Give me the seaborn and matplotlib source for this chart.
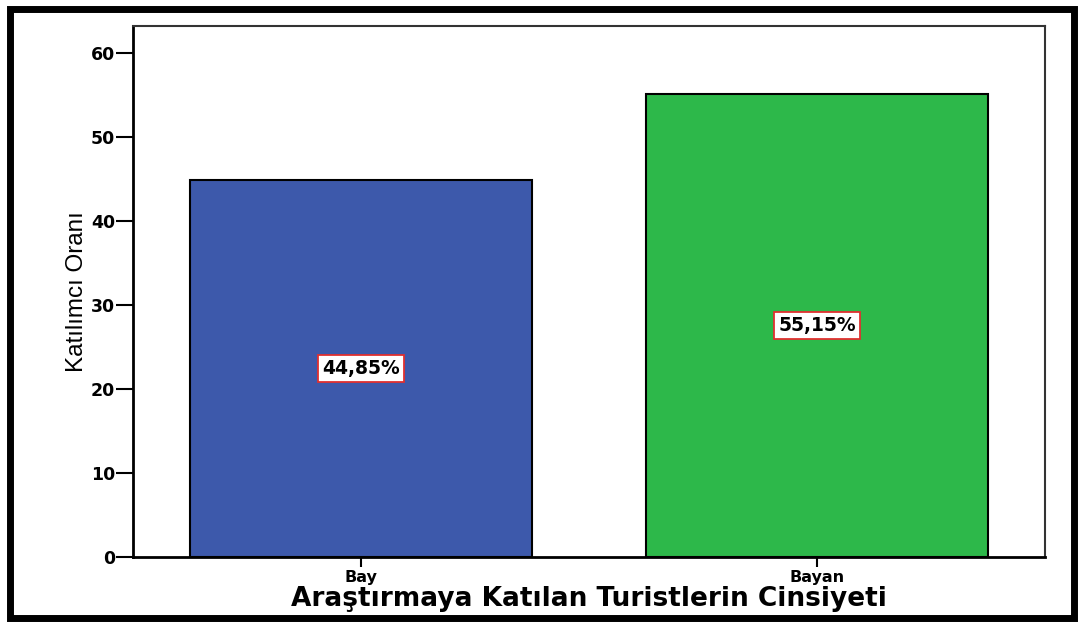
import pandas as pd
import matplotlib.pyplot as plt
import seaborn as sns
from matplotlib.patches import Rectangle

# --- Data ---
categories = ["Bay", "Bayan"]
percentages = [44.85, 55.15]
bar_labels = ["44,85%", "55,15%"]
colors = ["#3d59ab", "#2db84a"]

df = pd.DataFrame({"cinsiyet": categories, "oran": percentages})

sns.set_theme(style="white")
plt.rcParams["font.family"] = ["DejaVu Sans"]
plt.rcParams["text.color"] = "black"
plt.rcParams["xtick.color"] = "black"
plt.rcParams["ytick.color"] = "black"
plt.rcParams["axes.labelcolor"] = "black"

fig = plt.figure(figsize=(10.8, 6.23), dpi=100)
ax = fig.add_axes([0.1231, 0.1059, 0.8445, 0.8524])

sns.barplot(data=df, x="cinsiyet", y="oran", hue="cinsiyet", palette=colors,
            saturation=1, width=0.75, edgecolor="black", linewidth=1.5,
            legend=False, ax=ax)

# labels in the middle of each bar
for i, (val, lab) in enumerate(zip(percentages, bar_labels)):
    ax.text(i, val / 2, lab, ha="center", va="center", fontsize=13.5,
            fontweight="bold", color="black",
            bbox=dict(boxstyle="square,pad=0.2", facecolor="white",
                      edgecolor="#e03030", linewidth=1.3))

ax.set_xlim(-0.5, 1.5)
ax.set_ylim(0, 63.2)
ax.set_yticks([0, 10, 20, 30, 40, 50, 60])
ax.tick_params(axis="y", direction="out", length=12, width=1.5,
               color="black", labelsize=12.5, pad=1, left=True)
ax.tick_params(axis="x", direction="out", length=7, width=1.5,
               color="black", labelsize=11.5, pad=2, bottom=True)
for lbl in ax.get_xticklabels() + ax.get_yticklabels():
    lbl.set_fontweight("bold")

ax.set_xlabel("Araştırmaya Katılan Turistlerin Cinsiyeti", fontsize=19,
              fontweight="bold", labelpad=1)
ax.set_ylabel("Katılımcı Oranı", fontsize=17.5,
              family=["Liberation Sans", "DejaVu Sans"], labelpad=2)

for side in ["left", "bottom"]:
    ax.spines[side].set_color("black")
    ax.spines[side].set_linewidth(2)
for side in ["top", "right"]:
    ax.spines[side].set_color("#333333")
    ax.spines[side].set_linewidth(1.5)

# outer frame
fig.patches.append(Rectangle((0.0095, 0.008), 0.985, 0.978, transform=fig.transFigure,
                             fill=False, edgecolor="black", linewidth=5))

fig.savefig("out.png", dpi=100)
